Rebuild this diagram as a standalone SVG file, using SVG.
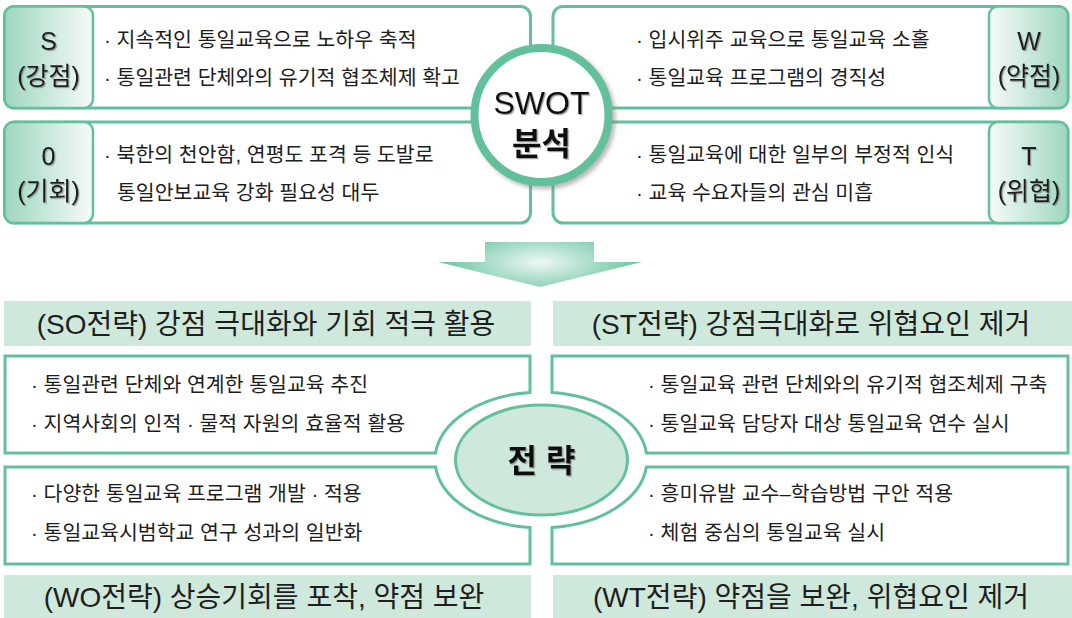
<svg xmlns="http://www.w3.org/2000/svg" width="1072" height="618" viewBox="0 0 1072 618">
<defs>
<linearGradient id="lab" x1="0" y1="0" x2="1" y2="0">
<stop offset="0" stop-color="#9ed7be"/>
<stop offset="1" stop-color="#f6fbf8"/>
</linearGradient>
<linearGradient id="labR" x1="1" y1="0" x2="0" y2="0">
<stop offset="0" stop-color="#9ed7be"/>
<stop offset="1" stop-color="#f6fbf8"/>
</linearGradient>
<radialGradient id="arr" cx="540" cy="262" r="110" gradientUnits="userSpaceOnUse" gradientTransform="translate(540 262) scale(1 0.35) translate(-540 -262)">
<stop offset="0" stop-color="#eef8f3"/>
<stop offset="1" stop-color="#5cbf97"/>
</radialGradient>
<filter id="sh" x="-20%" y="-20%" width="150%" height="150%">
<feDropShadow dx="3" dy="3" stdDeviation="2" flood-color="#888" flood-opacity="0.6"/>
</filter>
<filter id="tsh" x="-10%" y="-10%" width="130%" height="130%">
<feDropShadow dx="1.2" dy="1.2" stdDeviation="0.6" flood-color="#777" flood-opacity="0.7"/>
</filter>
</defs>
<style>
.box{fill:#fff;stroke:#62c09b;stroke-width:3}
.cell{stroke:#62c09b;stroke-width:2.5}
.hdr{fill:#cfe8dc}
.t{font-family:"Liberation Sans","Noto Sans CJK KR",sans-serif;font-size:20.5px;fill:#1e1e1e}
.lab{font-family:"Liberation Sans","Noto Sans CJK KR",sans-serif;font-size:25px;fill:#1a1a1a;text-anchor:middle;filter:url(#tsh)}
.h{font-family:"Liberation Sans","Noto Sans CJK KR",sans-serif;font-size:28px;fill:#1e1e1e;text-anchor:middle}
.big{font-family:"Liberation Sans","Noto Sans CJK KR",sans-serif;font-size:32px;fill:#111;text-anchor:middle;filter:url(#tsh)}
</style>
<rect width="1072" height="618" fill="#fff"/>

<g id="S">
<rect class="box" x="4.5" y="6.5" width="526" height="101.5" rx="10"/>
<rect class="cell" x="4.5" y="6.5" width="88.5" height="101.5" rx="9" fill="url(#lab)"/>
<text class="lab" x="48.5" y="50">S</text>
<text class="lab" x="48.5" y="85">(강점)</text>
<text class="t" x="104" y="47">· 지속적인 통일교육으로 노하우 축적</text>
<text class="t" x="104" y="85">· 통일관련 단체와의 유기적 협조체제 확고</text>
</g>
<g id="O">
<rect class="box" x="4.5" y="122" width="526" height="101" rx="10"/>
<rect class="cell" x="4.5" y="122" width="88.5" height="101" rx="9" fill="url(#lab)"/>
<text class="lab" x="48.5" y="165">0</text>
<text class="lab" x="48.5" y="200">(기회)</text>
<text class="t" x="104" y="162">· 북한의 천안함, 연평도 포격 등 도발로</text>
<text class="t" x="117" y="200">통일안보교육 강화 필요성 대두</text>
</g>
<g id="W">
<rect class="box" x="553" y="6.5" width="515" height="101.5" rx="10"/>
<rect class="cell" x="989" y="6.5" width="79" height="101.5" rx="9" fill="url(#labR)"/>
<text class="lab" x="1029" y="50">W</text>
<text class="lab" x="1029" y="85">(약점)</text>
<text class="t" x="636" y="47">· 입시위주 교육으로 통일교육 소홀</text>
<text class="t" x="636" y="85">· 통일교육 프로그램의 경직성</text>
</g>
<g id="T">
<rect class="box" x="553" y="122" width="515" height="101" rx="10"/>
<rect class="cell" x="989" y="122" width="79" height="101" rx="9" fill="url(#labR)"/>
<text class="lab" x="1029" y="165">T</text>
<text class="lab" x="1029" y="200">(위협)</text>
<text class="t" x="636" y="162">· 통일교육에 대한 일부의 부정적 인식</text>
<text class="t" x="636" y="200">· 교육 수요자들의 관심 미흡</text>
</g>
<g id="SWOT">
<circle cx="541.5" cy="115" r="67" fill="#fff" stroke="#62c09b" stroke-width="8" filter="url(#sh)"/>
<text class="big" x="541.5" y="114">SWOT</text>
<text class="big" x="541.5" y="155" font-weight="bold">분석</text>
</g>

<g id="connectors">
<path d="M485,242 H594 V262 H642 L540,287 L438,262 H485 Z" fill="url(#arr)"/>
</g>

<g id="SO">
<rect class="hdr" x="4" y="301" width="527" height="45"/>
<text class="h" x="266" y="334">(SO전략) 강점 극대화와 기회 적극 활용</text>
<path class="box" d="M5,356 H530 V392.4 A106,68 0 0,0 435.6,453 H5 Z"/>
<text class="t" x="31" y="392">· 통일관련 단체와 연계한 통일교육 추진</text>
<text class="t" x="31" y="431">· 지역사회의 인적 · 물적 자원의 효율적 활용</text>
</g>
<g id="ST">
<rect class="hdr" x="553" y="301" width="519" height="45"/>
<text class="h" x="811" y="334">(ST전략) 강점극대화로 위협요인 제거</text>
<path class="box" d="M552,356 H1068 V453 H646.4 A106,68 0 0,0 552,392.4 Z"/>
<text class="t" x="648" y="392">· 통일교육 관련 단체와의 유기적 협조체제 구축</text>
<text class="t" x="648" y="431">· 통일교육 담당자 대상 통일교육 연수 실시</text>
</g>
<g id="WO">
<path class="box" d="M5,467 H435.6 A106,68 0 0,0 530,527.6 V564 H5 Z"/>
<text class="t" x="31" y="501">· 다양한 통일교육 프로그램 개발 · 적용</text>
<text class="t" x="31" y="540">· 통일교육시범학교 연구 성과의 일반화</text>
<rect class="hdr" x="4" y="575" width="527" height="43"/>
<text class="h" x="264" y="607">(WO전략) 상승기회를 포착, 약점 보완</text>
</g>
<g id="WT">
<path class="box" d="M552,527.6 A106,68 0 0,0 646.4,467 H1068 V564 H552 Z"/>
<text class="t" x="648" y="501">· 흥미유발 교수–학습방법 구안 적용</text>
<text class="t" x="648" y="540">· 체험 중심의 통일교육 실시</text>
<rect class="hdr" x="553" y="575" width="519" height="43"/>
<text class="h" x="811" y="607">(WT전략) 약점을 보완, 위협요인 제거</text>
</g>
<g id="strategy">
<ellipse cx="541.5" cy="460" rx="86" ry="55" fill="#cfe8dc" stroke="#62c09b" stroke-width="3"/>
<text class="big" x="541.5" y="472" font-weight="bold">전 략</text>
</g>
</svg>
